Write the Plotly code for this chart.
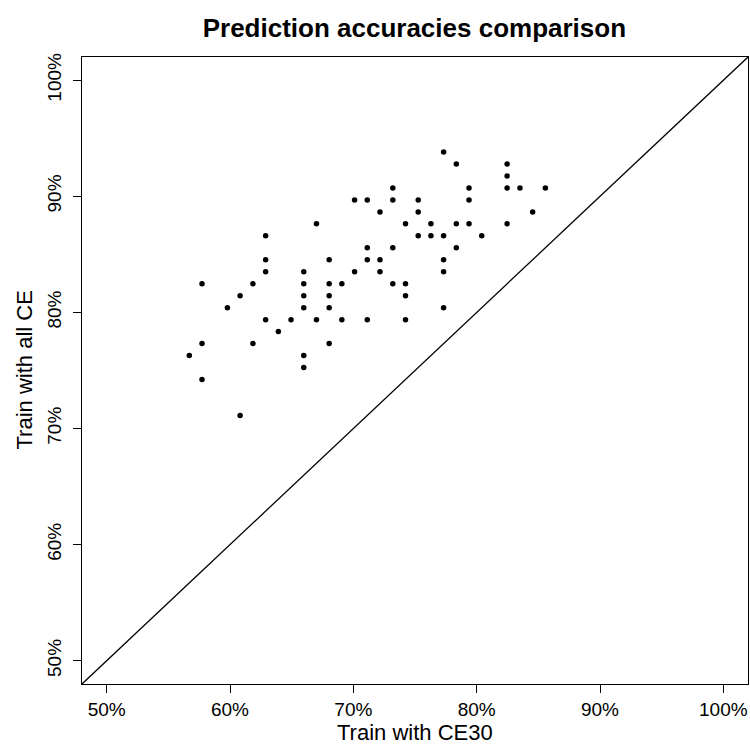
import plotly.graph_objects as go

# Accuracy (%) of each model when trained with CE30 (x) and with all CE (y)
acc_ce30 = [
    62.89, 62.89, 62.89, 62.89,
    57.73, 57.73, 57.73,
    61.86, 61.86,
    60.82, 60.82,
    59.79,
    64.95,
    63.92,
    56.70,
    65.98, 65.98, 65.98, 65.98, 65.98, 65.98,
    67.01, 67.01,
    68.04, 68.04, 68.04, 68.04, 68.04,
    77.32,
    78.35, 82.47,
    82.47,
    73.20, 79.38, 82.47, 83.51, 85.57,
    70.10, 71.13, 73.20, 75.26, 79.38,
    72.16, 75.26, 84.54,
    74.23, 76.29, 78.35, 79.38, 82.47,
    75.26, 76.29, 77.32, 80.41,
    71.13, 73.20, 78.35,
    71.13, 72.16, 77.32,
    70.10, 72.16, 77.32,
    69.07, 73.20, 74.23,
    74.23,
    77.32,
    69.07, 71.13, 74.23,
]
acc_all_ce = [
    86.60, 84.54, 83.51, 79.38,
    82.47, 77.32, 74.23,
    82.47, 77.32,
    81.44, 71.13,
    80.41,
    79.38,
    78.35,
    76.29,
    83.51, 82.47, 81.44, 80.41, 76.29, 75.26,
    87.63, 79.38,
    84.54, 82.47, 81.44, 80.41, 77.32,
    93.81,
    92.78, 92.78,
    91.75,
    90.72, 90.72, 90.72, 90.72, 90.72,
    89.69, 89.69, 89.69, 89.69, 89.69,
    88.66, 88.66, 88.66,
    87.63, 87.63, 87.63, 87.63, 87.63,
    86.60, 86.60, 86.60, 86.60,
    85.57, 85.57, 85.57,
    84.54, 84.54, 84.54,
    83.51, 83.51, 83.51,
    82.47, 82.47, 82.47,
    81.44,
    80.41,
    79.38, 79.38, 79.38,
]

tick_vals = [50, 60, 70, 80, 90, 100]
tick_text = ["50%", "60%", "70%", "80%", "90%", "100%"]
axis_range = [48, 102]

FONT = "Liberation Sans, Arial, Helvetica, sans-serif"

fig = go.Figure()

# identity line y = x
fig.add_trace(go.Scatter(
    x=axis_range, y=axis_range, mode="lines",
    line=dict(color="black", width=1.3),
    hoverinfo="skip", showlegend=False,
))

fig.add_trace(go.Scatter(
    x=acc_ce30, y=acc_all_ce, mode="markers",
    marker=dict(color="black", size=5.5),
    showlegend=False,
))

axis_common = dict(
    range=axis_range,
    tickmode="array",
    tickvals=tick_vals,
    ticktext=tick_text,
    ticks="outside",
    ticklen=8,
    tickwidth=1,
    tickcolor="black",
    showline=True,
    linecolor="black",
    linewidth=1.3,
    mirror=True,
    showgrid=False,
    zeroline=False,
    tickfont=dict(family=FONT, size=19, color="black"),
)

fig.update_xaxes(**axis_common)
fig.update_yaxes(**axis_common, tickangle=-90, ticklabelstandoff=4)

fig.update_layout(
    width=750,
    height=745,
    margin=dict(l=82, r=2, t=57, b=61, autoexpand=False),
    paper_bgcolor="white",
    plot_bgcolor="white",
    font=dict(family=FONT, color="black"),
    title=dict(
        text="<b>Prediction accuracies comparison</b>",
        font=dict(family=FONT, size=26, color="black"),
        x=0.5525, xanchor="center", y=0.962, yanchor="middle",
    ),
    annotations=[
        dict(text="Train with CE30", xref="paper", yref="paper",
             x=0.5, y=0, xanchor="center", yanchor="middle", yshift=-48,
             showarrow=False, font=dict(family=FONT, size=22, color="black")),
        dict(text="Train with all CE", xref="paper", yref="paper",
             x=0, y=0.5, xanchor="center", yanchor="middle", xshift=-58,
             textangle=-90, showarrow=False,
             font=dict(family=FONT, size=22, color="black")),
    ],
)

fig.write_html("out.html")
